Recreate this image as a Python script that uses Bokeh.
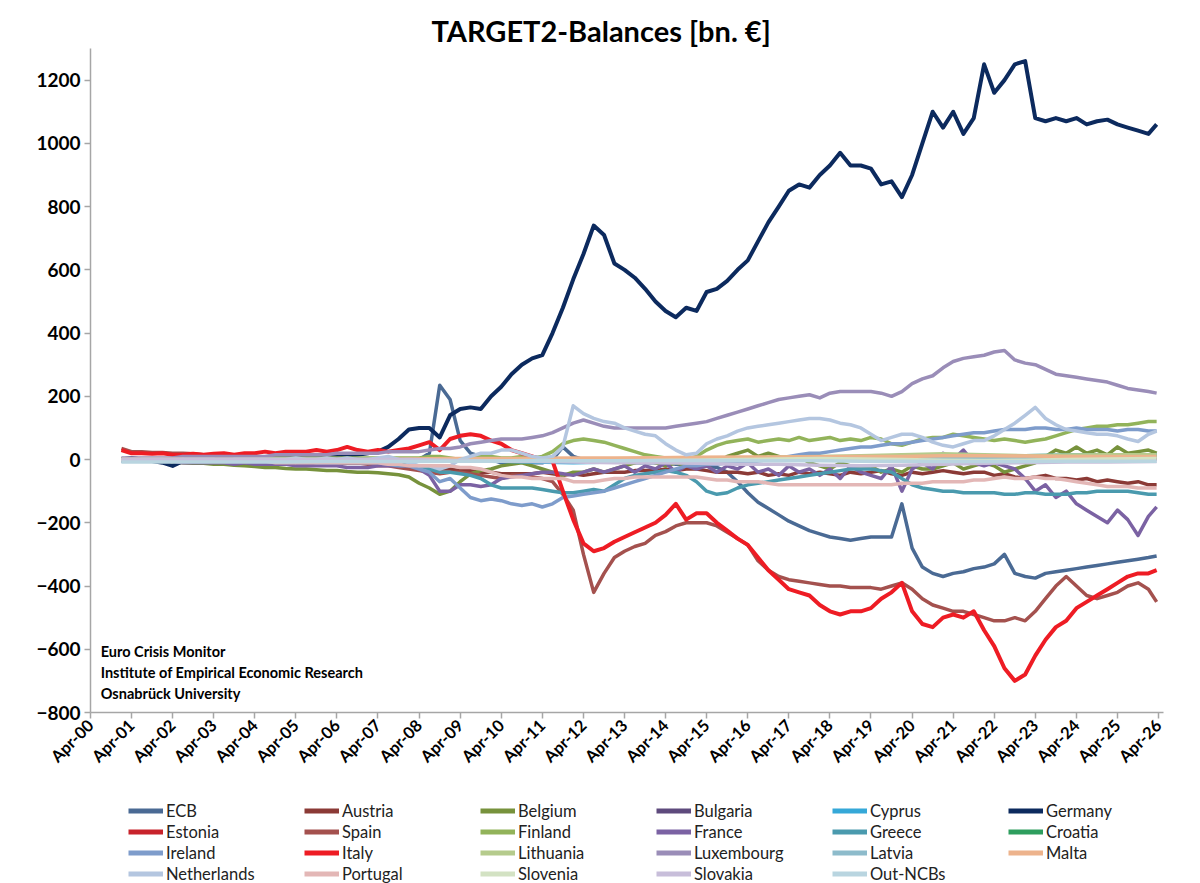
import pandas as pd
from math import pi
from bokeh.plotting import figure
from bokeh.layouts import column
from bokeh.models import (Range1d, FixedTicker, DatetimeTickFormatter, Legend,
                          LegendItem, Label)
from bokeh.embed import file_html
from bokeh.resources import INLINE

# ---------------- data (bn. EUR) ----------------
# quarterly observation dates: 2001Q1 .. 2025Q4, then Jan-26 and Mar-26
quarter_dates = list(pd.date_range("2001-01-01", "2025-10-01", freq="QS")) + [
    pd.Timestamp("2026-01-01"), pd.Timestamp("2026-03-15")]
# yearly observation dates for the small balances: Jan-01 .. Jan-25, then Mar-26
year_dates = list(pd.date_range("2001-01-01", "2025-01-01", freq="YS")) + [
    pd.Timestamp("2026-03-15")]

ecb = [0, 0, 0, 0, 0, 0, 0, 0, 0, 0, 0, 0, 0, 0, 0, 0, 0, 0, 0, 0, 0, 0, 0, 0,
       0, 0, 0, -5, 0, 0, 20, 235, 190, 60, 20, 10, 0, -10, -10, -5,
       -10, -10, 0, 40, 10, 0, 0, -5, -5, -10, -10, -10, -10, -10, -15, -15,
       -15, -20, -25, -40, -70, -105, -135, -155, -175, -195, -210, -225,
       -235, -245, -250, -255, -250, -245, -245, -245, -140, -280, -340, -360,
       -370, -360, -355, -345, -340, -330, -300, -360, -370, -375, -360, -355,
       -350, -345, -340, -335, -330, -325, -320, -315, -310, -305]
austria = [0, 0, -2, -2, -3, -3, -4, -5, -5, -5, -6, -6, -7, -7, -8, -8,
           -8, -9, -10, -10, -10, -10, -12, -12, -12, -15, -15, -18,
           -20, -20, -25, -30, -30, -35, -35, -40, -40, -45, -45, -45,
           -45, -40, -45, -50, -45, -50, -45, -40, -40, -40, -35, -35,
           -35, -30, -35, -30, -30, -35, -40, -40, -40, -45, -40, -50,
           -45, -50, -40, -45, -40, -45, -50, -40, -45, -40, -35, -45,
           -50, -40, -45, -40, -35, -40, -45, -40, -40, -50, -45, -55,
           -60, -55, -50, -60, -60, -65, -60, -70, -65, -70, -75, -70, -80, -80]
belgium = [0, -2, -3, -5, -5, -8, -10, -12, -12, -15, -15, -18, -20, -22, -25, -25,
           -28, -30, -30, -32, -35, -35, -38, -40, -40, -42, -45, -48,
           -55, -75, -90, -110, -100, -70, -45, -35, -30, -20, -15, -10,
           -20, -30, -40, -50, -40, -40, -30, -40, -30, -20, -10, 0,
           -10, -20, -10, -20, -10, -20, -10, 10, 20, 30, 10, 20,
           10, 0, 10, -10, -20, -30, -10, -20, -30, -20, -40, -30,
           -40, -20, -30, -30, -20, -10, -30, -20, -10, -20, -40, -30,
           -20, -10, 10, 30, 20, 40, 20, 30, 15, 40, 20, 25, 30, 20]
germany = [0, 5, 0, -5, -10, -20, -5, 0, 5, 5, 5, 8, 5, 8, 5, 8,
           10, 8, 10, 12, 10, 15, 12, 15, 20, 25, 40, 65,
           95, 100, 100, 70, 140, 160, 165, 160, 200, 230, 270, 300,
           320, 330, 400, 480, 570, 650, 740, 710, 620, 600, 575, 540,
           500, 470, 450, 480, 470, 530, 540, 565, 600, 630, 690, 750,
           800, 850, 870, 860, 900, 930, 970, 930, 930, 920, 870, 880,
           830, 900, 1000, 1100, 1050, 1100, 1030, 1080, 1250, 1160, 1200, 1250,
           1260, 1080, 1070, 1080, 1070, 1080, 1060, 1070, 1075, 1060, 1050, 1040,
           1030, 1060]
spain = [35, 25, 25, 22, 22, 20, 20, 18, 15, 15, 12, 10, 10, 8, 5, 5,
         0, 0, -5, -5, -5, -10, -10, -10, -15, -20, -20, -25,
         -30, -35, -40, -45, -40, -40, -45, -50, -55, -60, -50, -50,
         -55, -60, -70, -110, -160, -300, -420, -360, -310, -290, -275, -265,
         -240, -228, -210, -200, -200, -200, -210, -230, -250, -270, -320, -350,
         -370, -380, -385, -390, -395, -400, -400, -405, -405, -405, -410, -400,
         -390, -410, -440, -460, -470, -480, -480, -490, -500, -510, -510, -500,
         -510, -480, -440, -400, -370, -400, -430, -440, -430, -420, -400, -390,
         -410, -450]
finland = [0, 0, 0, 0, 0, 0, 5, 5, 5, 5, 5, 5, 5, 5, 5, 5,
           5, 5, 5, 5, 5, 5, 5, 5, 5, 5, 5, 5,
           5, 5, 10, 10, 5, 0, 5, 10, 10, 5, 5, 10,
           5, 10, 25, 50, 60, 65, 60, 55, 45, 35, 25, 15,
           10, 5, 5, 0, 10, 30, 45, 55, 60, 65, 55, 60,
           65, 60, 70, 60, 65, 70, 60, 65, 60, 70, 65, 50,
           45, 55, 65, 70, 70, 80, 75, 70, 65, 60, 65, 60,
           55, 60, 65, 75, 85, 95, 100, 105, 105, 110, 110, 115, 120, 120]
france = [0, -5, -5, -5, -5, -5, -10, -10, -10, -10, -10, -15, -10, -15, -15, -15,
          -15, -20, -20, -20, -20, -20, -25, -25, -25, -20, -20, -20,
          -20, -30, -50, -100, -100, -80, -80, -85, -80, -60, -55, -50,
          -45, -40, -40, -45, -50, -40, -30, -40, -30, -20, -40, -20,
          -30, -10, -40, -20, -30, -20, -40, -20, -30, -10, -40, -30,
          -50, -20, -40, -30, -50, -30, -60, -20, -40, -50, -60, -20,
          -100, -30, -10, -30, 20, 0, 30, -10, -20, -10, -20, -30,
          -60, -100, -80, -120, -100, -140, -160, -180, -200, -160, -190, -240,
          -180, -150]
greece = [-5, -5, -5, -5, -5, -5, -5, -5, -5, -5, -5, -5, -5, -5, -5, -5,
          -5, -5, -5, -5, -5, -5, -5, -5, -5, -5, -10, -10,
          -15, -20, -30, -40, -40, -45, -50, -60, -80, -90, -90, -90,
          -90, -95, -100, -105, -105, -100, -95, -100, -80, -60, -50, -45,
          -40, -35, -40, -50, -70, -100, -110, -105, -90, -80, -75, -70,
          -65, -60, -55, -50, -45, -40, -35, -30, -30, -30, -35, -40,
          -60, -80, -90, -95, -100, -100, -105, -105, -105, -105, -110, -110,
          -105, -105, -110, -110, -110, -105, -105, -100, -100, -100, -100, -105,
          -110, -110]
ireland = [0, 0, 0, 0, 0, 0, -5, -5, -5, -5, -5, -5, -5, -5, -5, -5,
           -5, -5, -5, -10, -10, -10, -10, -10, -10, -10, -15, -20,
           -20, -30, -40, -70, -60, -90, -120, -130, -125, -130, -140, -145,
           -140, -150, -140, -120, -115, -110, -105, -100, -90, -80, -70, -60,
           -50, -40, -30, -20, -20, -15, -15, -10, -10, -10, -5, 0,
           5, 10, 15, 20, 20, 25, 30, 35, 40, 40, 45, 50,
           50, 55, 60, 65, 70, 75, 80, 85, 85, 90, 95, 95,
           95, 100, 100, 95, 95, 100, 95, 95, 95, 90, 95, 95, 90, 90]
italy = [30, 20, 20, 18, 20, 15, 15, 18, 15, 18, 20, 15, 20, 20, 25, 20,
         25, 25, 25, 30, 25, 30, 40, 30, 25, 30, 25, 30,
         35, 45, 55, 30, 65, 75, 80, 75, 60, 50, 30, 20,
         10, 0, -5, -100, -190, -265, -290, -280, -260, -245, -230, -215,
         -200, -175, -140, -190, -170, -170, -200, -225, -250, -270, -310, -350,
         -380, -410, -420, -430, -460, -480, -490, -480, -480, -470, -440, -420,
         -390, -480, -520, -530, -500, -490, -500, -480, -540, -590, -660, -700,
         -680, -620, -570, -530, -510, -470, -450, -430, -410, -390, -370, -360,
         -360, -350]
luxembourg = [5, 5, 5, 5, 5, 5, 10, 10, 10, 10, 10, 10, 10, 10, 10, 15,
              15, 15, 15, 15, 15, 20, 20, 20, 20, 20, 25, 25,
              25, 25, 30, 35, 35, 40, 50, 55, 60, 65, 65, 65,
              70, 75, 85, 100, 115, 125, 115, 105, 100, 100, 100, 100,
              100, 100, 105, 110, 115, 120, 130, 140, 150, 160, 170, 180,
              190, 195, 200, 205, 195, 210, 215, 215, 215, 215, 210, 200,
              215, 240, 255, 265, 290, 310, 320, 325, 330, 340, 345, 315,
              305, 300, 285, 270, 265, 260, 255, 250, 245, 235, 225, 220, 215, 210]
netherlands = [-5, -5, 0, 0, 0, -5, 0, 0, 0, 0, -5, 0, 0, 0, 0, 0,
               0, 5, 0, 0, 5, 0, 5, 0, 0, 5, 10, 0,
               -10, -20, -20, -30, -20, 0, 10, 20, 20, 30, 30, 20,
               10, 5, 10, 40, 170, 145, 130, 120, 115, 100, 90, 80,
               75, 50, 30, 15, 20, 50, 65, 75, 90, 100, 105, 110,
               115, 120, 125, 130, 130, 125, 115, 110, 100, 80, 60, 70,
               80, 80, 70, 55, 45, 40, 50, 60, 60, 75, 95, 115,
               140, 165, 130, 110, 95, 90, 85, 80, 80, 75, 65, 57, 80, 90]
portugal = [0, 0, 0, 0, 0, 0, 0, -5, -5, -5, -5, -5, -5, -5, -5, -10,
            -10, -10, -10, -10, -10, -10, -10, -10, -10, -10, -15, -15,
            -20, -20, -20, -20, -20, -25, -25, -30, -40, -50, -55, -55,
            -60, -60, -60, -60, -70, -70, -70, -65, -60, -60, -55, -55,
            -55, -55, -55, -55, -55, -60, -65, -65, -70, -70, -70, -75,
            -80, -80, -80, -80, -80, -80, -80, -80, -80, -80, -80, -80,
            -75, -75, -75, -70, -70, -70, -70, -65, -65, -60, -55, -60,
            -60, -55, -60, -60, -65, -70, -75, -80, -85, -85, -85, -90, -90, -90]

# small balances, yearly readings
bulgaria = [0, 0, 0, 0, 0, 0, 0, 0, 0, 0, 0, 0, 0, 0, 0, 0, 0, 0, 0, 0, 0, 0, 0, 0, 0, 2]
cyprus = [0, 0, 0, 0, 0, 0, 0, -2, -5, -5, -8, -10, -8, -5, -3, -2, 0, 2, 5, 8, 10, 12, 12, 14, 15, 15]
estonia = [0, 0, 0, 0, 0, 0, 0, 0, 0, 0, 0, -2, -3, -2, 0, 2, 3, 2, 0, 2, 4, 5, 3, 2, 3, 3]
croatia = [0, 0, 0, 0, 0, 0, 0, 0, 0, 0, 0, 0, 0, 0, 0, 0, 0, 0, 0, 0, 0, 0, 2, 5, 8, 10]
lithuania = [0, 0, 0, 0, 0, 0, 0, 0, 0, 0, 0, 0, 0, 0, 2, 5, 8, 10, 12, 15, 18, 15, 12, 14, 15, 15]
latvia = [0, 0, 0, 0, 0, 0, 0, 0, 0, 0, 0, 0, 0, -2, -3, -2, 0, 2, 3, 5, 6, 5, 4, 5, 6, 6]
malta = [0, 0, 0, 0, 0, 0, 0, 2, 3, 3, 4, 5, 5, 6, 7, 8, 8, 9, 10, 10, 12, 12, 11, 10, 10, 10]
slovenia = [0, 0, 0, 0, 0, 0, -2, -3, -3, -4, -3, -4, -5, -3, -2, 0, 2, 3, 2, 0, -2, -3, -2, 0, 2, 3]
slovakia = [0, 0, 0, 0, 0, 0, 0, 0, -3, -5, -6, -8, -10, -10, -12, -15, -15, -18, -20, -18, -15, -12, -10, -8, -8, -6]
out_ncbs = [-8, -8, -8, -8, -8, -6, -6, -6, -5, -5, -4, -4, -4, -3, -3, -3, -4, -4, -5, -5, -6, -6, -6, -5, -5, -5]

series_names = ["ECB", "Austria", "Belgium", "Bulgaria", "Cyprus", "Germany",
                "Estonia", "Spain", "Finland", "France", "Greece", "Croatia",
                "Ireland", "Italy", "Lithuania", "Luxembourg", "Latvia", "Malta",
                "Netherlands", "Portugal", "Slovenia", "Slovakia", "Out-NCBs"]
series_values = [ecb, austria, belgium, bulgaria, cyprus, germany,
                 estonia, spain, finland, france, greece, croatia,
                 ireland, italy, lithuania, luxembourg, latvia, malta,
                 netherlands, portugal, slovenia, slovakia, out_ncbs]
series_colors = ["#4A6A94", "#8B3A36", "#77923C", "#5E4A7D", "#35A8D8", "#0C2A5E",
                 "#C8232B", "#A4514E", "#92B35A", "#7B62A3", "#4A9AAE", "#2E9E5E",
                 "#7E9CCB", "#EE1C24", "#B5CB8C", "#9A8DB8", "#8DBBCB", "#EDB38C",
                 "#B4C6E0", "#E3B7B6", "#D3E2C3", "#C8BEDA", "#B9D5E0"]

y_ticks = [-800, -600, -400, -200, 0, 200, 400, 600, 800, 1000, 1200]
x_tick_years = list(range(2000, 2027))

# ---------------- main figure ----------------
FONT = "Lato"

p = figure(width=1200, height=790, x_axis_type="datetime",
           output_backend="svg", toolbar_location=None,
           x_range=Range1d(pd.Timestamp("2000-04-01"), pd.Timestamp("2026-05-15")),
           y_range=Range1d(-800, 1300),
           min_border_left=90, min_border_right=37,
           min_border_top=48, min_border_bottom=78)
p.background_fill_color = "white"
p.border_fill_color = "white"
p.outline_line_color = None
p.xgrid.grid_line_color = None
p.ygrid.grid_line_color = None

p.title.text = "TARGET2-Balances [bn. \u20ac]"
p.title.align = "left"
p.title.offset = 341
p.title.standoff = 1
p.title.text_font = FONT
p.title.text_font_style = "bold"
p.title.text_font_size = "29px"
p.title.text_color = "black"

x_ticks = [pd.Timestamp(f"{y}-04-01").timestamp() * 1000 for y in x_tick_years]
p.xaxis.ticker = FixedTicker(ticks=x_ticks)
p.xaxis.formatter = DatetimeTickFormatter(
    years="%b-%y", months="%b-%y", days="%b-%y", hours="%b-%y",
    minutes="%b-%y", seconds="%b-%y", milliseconds="%b-%y",
    microseconds="%b-%y", hourmin="%b-%y", minsec="%b-%y",
    strip_leading_zeros=False)
p.xaxis.major_label_orientation = pi / 4
p.yaxis.ticker = FixedTicker(ticks=y_ticks)

for ax in (p.xaxis[0], p.yaxis[0]):
    ax.axis_line_color = "#A6A6A6"
    ax.axis_line_width = 1.5
    ax.major_tick_line_color = "#A6A6A6"
    ax.major_tick_line_width = 1.5
    ax.major_tick_in = 0
    ax.major_tick_out = 6
    ax.minor_tick_line_color = None
    ax.major_label_text_font = FONT
    ax.major_label_text_font_style = "bold"
    ax.major_label_text_color = "black"
p.xaxis.major_label_text_font_size = "16.5px"
p.xaxis.major_label_standoff = 4
p.yaxis.major_label_text_font_size = "19px"
p.yaxis.major_label_standoff = 4

for name, vals, col in zip(series_names, series_values, series_colors):
    dates = quarter_dates if len(vals) == len(quarter_dates) else year_dates
    lw = 4 if name in ("Germany", "Italy") else 3.5
    p.line(dates, vals, line_color=col, line_width=lw, line_join="round")

note_x = pd.Timestamp("2000-07-01").timestamp() * 1000
for txt, yv in [("Euro Crisis Monitor", -607),
                ("Institute of Empirical Economic Research", -674),
                ("Osnabr\u00fcck University", -740)]:
    p.add_layout(Label(x=note_x, y=yv, text=txt, text_font=FONT,
                       text_font_style="bold", text_font_size="14.5px",
                       text_baseline="middle", text_color="black"))

# ---------------- legend strip ----------------
lg = figure(width=1200, height=93, output_backend="svg", toolbar_location=None,
            x_axis_location=None, y_axis_location=None,
            x_range=Range1d(0, 1), y_range=Range1d(0, 1),
            min_border_left=0, min_border_right=0,
            min_border_top=0, min_border_bottom=0)
lg.outline_line_color = None
lg.xgrid.grid_line_color = None
lg.ygrid.grid_line_color = None
lg.background_fill_color = "white"
lg.border_fill_color = "white"

items = []
for name, col in zip(series_names, series_colors):
    # legend-key renderers only: their points lie outside the strip's visible range
    r = lg.line([5, 6], [5, 6], line_color=col, line_width=5)
    items.append(LegendItem(label=name, renderers=[r]))

legend = Legend(items=items, location=(38, -1), orientation="horizontal",
                ncols=6, glyph_width=35, glyph_height=21, label_height=21,
                label_width=138, label_standoff=3, spacing=0, padding=0,
                margin=0, border_line_color=None, background_fill_alpha=0,
                label_text_font=FONT, label_text_font_size="16.5px",
                label_text_color="#222222")
lg.add_layout(legend)

open("out.html", "w").write(file_html(column(p, lg, spacing=0), INLINE))
